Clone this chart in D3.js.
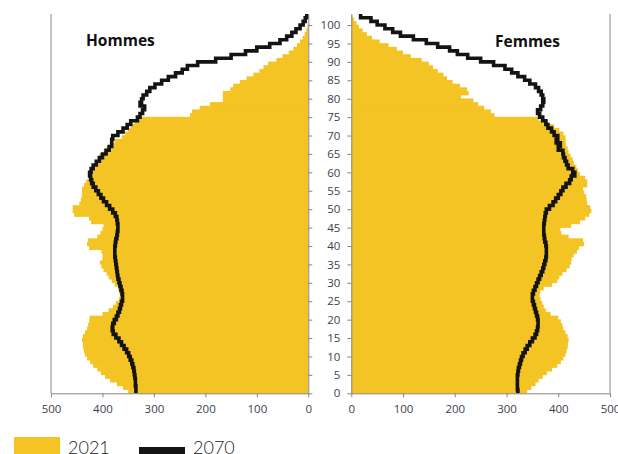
<!DOCTYPE html>
<html>
<head>
<meta charset="utf-8">
<script src="https://cdn.jsdelivr.net/npm/d3@7"></script>
<style>
  body { margin: 0; background: #fff; }
  svg { display: block; }
  .axis text { font-family: "Open Sans", sans-serif; font-size: 11.5px; fill: #3d3d4f; }
  .axis path, .axis line { stroke: #868686; }
</style>
</head>
<body>
<svg id="pyramid" width="618" height="454"></svg>
<script>
// ages 0 .. 102, one bar per age
var ages = d3.range(0, 103);

// population in thousands
var hommes2021 = [
  350, 360, 372, 385, 395, 403, 410, 418, 424, 430,
  434, 436, 438, 438, 440, 438, 434, 430, 428, 426,
  425, 400, 388, 380, 374, 368, 366, 368, 370, 376,
  382, 388, 392, 398, 402, 405, 400, 400, 402, 426,
  430, 428, 410, 404, 400, 398, 422, 426, 455, 458,
  458, 445, 442, 440, 440, 440, 436, 432, 425, 418,
  418, 414, 410, 408, 406, 398, 392, 385, 376, 362,
  356, 350, 344, 338, 328, 230, 226, 211, 191, 166,
  166, 166, 152, 146, 133, 120, 107, 95, 87, 78,
  62, 50, 38, 29, 22, 16, 11, 7, 4, 2,
  1, 0, 0
];
var femmes2021 = [
  340, 348, 356, 362, 370, 378, 388, 398, 405, 410,
  414, 416, 418, 419, 420, 418, 414, 410, 408, 405,
  400, 385, 376, 372, 369, 366, 364, 365, 372, 388,
  398, 402, 408, 416, 422, 425, 426, 430, 436, 440,
  450, 448, 420, 406, 404, 425, 442, 452, 460, 464,
  462, 456, 455, 454, 450, 448, 456, 456, 452, 442,
  438, 435, 430, 428, 424, 420, 418, 415, 414, 414,
  410, 402, 392, 380, 362, 277, 270, 257, 245, 236,
  212, 227, 224, 210, 196, 185, 178, 167, 158, 150,
  136, 115, 100, 88, 72, 55, 40, 30, 22, 15,
  10, 5, 2
];
var hommes2070 = [
  335, 335, 336, 336, 337, 338, 339, 341, 343, 346,
  349, 353, 358, 363, 368, 374, 379, 381, 380, 377,
  373, 370, 367, 365, 363, 361, 361, 362, 364, 366,
  368, 370, 371, 372, 373, 374, 375, 376, 376, 376,
  375, 374, 372, 371, 370, 370, 371, 372, 375, 380,
  386, 392, 398, 403, 408, 413, 418, 421, 423, 425,
  422, 418, 412, 406, 400, 393, 387, 382, 382, 380,
  370, 360, 352, 345, 332, 327, 322, 318, 327, 324,
  321, 314, 308, 298, 285, 272, 258, 245, 235, 215,
  180, 150, 122, 100, 75, 55, 42, 32, 24, 16,
  10, 6, 3
];
var femmes2070 = [
  322, 321, 321, 321, 321, 322, 323, 325, 327, 329,
  332, 336, 340, 345, 350, 355, 358, 360, 361, 361,
  360, 358, 356, 354, 352, 350, 350, 352, 355, 358,
  361, 364, 367, 370, 372, 374, 376, 377, 377, 377,
  376, 374, 373, 372, 372, 372, 373, 374, 375, 377,
  383, 390, 395, 400, 405, 409, 415, 422, 425, 432,
  428, 419, 416, 413, 410, 409, 400, 404, 396, 399,
  392, 387, 380, 376, 370, 364, 360, 366, 370, 372,
  370, 367, 362, 356, 345, 335, 322, 310, 297, 275,
  250, 225, 205, 190, 167, 145, 120, 95, 80, 65,
  50, 38, 18
];

var valueTicks = [0, 100, 200, 300, 400, 500];
var ageTicks = d3.range(0, 101, 5);
var legendLabels = ['2021', '2070'];

var yellow = '#f3c423';
var dark = '#141414';

var svg = d3.select('svg#pyramid');

// scales
var y = d3.scaleLinear().domain([0, 103]).range([393.3, 14]);
var xLeft = d3.scaleLinear().domain([0, 500]).range([308.3, 51]);
var xRight = d3.scaleLinear().domain([0, 500]).range([351.3, 610]);

// 2021 bars
function drawBars(values, x, side) {
    svg.append('g').selectAll('rect')
        .data(ages)
        .enter().append('rect')
            .attr('x', function(a) { return side == 'left' ? x(values[a]) : x(0); })
            .attr('y', function(a) { return y(a + 1) - 0.3; })
            .attr('width', function(a) { return Math.abs(x(values[a]) - x(0)); })
            .attr('height', function(a) { return y(a) - y(a + 1) + 0.6; })
            .attr('fill', yellow);
}
drawBars(hommes2021, xLeft, 'left');
drawBars(femmes2021, xRight, 'right');

// 2070 stepped outline
function drawLine(values, x) {
    var pts = ages.map(function(a) { return [x(values[a]), y(a)]; });
    var last = ages[ages.length - 1];
    pts.push([x(values[last]), y(last + 1)]);
    svg.append('path')
        .attr('d', d3.line().curve(d3.curveStepBefore)(pts))
        .attr('fill', 'none')
        .attr('stroke', dark)
        .attr('stroke-width', 3.6)
        .attr('stroke-linejoin', 'miter');
}
drawLine(hommes2070, xLeft);
drawLine(femmes2070, xRight);

// axes
svg.append('g').attr('class', 'axis')
    .attr('transform', 'translate(0,393.3)')
    .call(d3.axisBottom(xLeft).tickValues(valueTicks).tickSize(4).tickSizeOuter(0).tickPadding(8));
svg.append('g').attr('class', 'axis')
    .attr('transform', 'translate(0,393.3)')
    .call(d3.axisBottom(xRight).tickValues(valueTicks).tickSize(4).tickSizeOuter(0).tickPadding(8));

svg.append('g').attr('class', 'axis')
    .attr('transform', 'translate(308.3,0)')
    .call(d3.axisRight(y).tickValues(ageTicks).tickSize(4).tickSizeOuter(0).tickFormat(''));
svg.append('g').attr('class', 'axis')
    .attr('transform', 'translate(351.3,0)')
    .call(d3.axisLeft(y).tickValues(ageTicks).tickSize(4).tickSizeOuter(0).tickPadding(7));

// outer frame lines
svg.append('line').attr('x1', xLeft(500)).attr('x2', xLeft(500))
    .attr('y1', y(103)).attr('y2', y(0)).attr('stroke', '#868686');
svg.append('line').attr('x1', xRight(500)).attr('x2', xRight(500))
    .attr('y1', y(103)).attr('y2', y(0)).attr('stroke', '#868686');

// panel titles
svg.append('text').attr('x', 86).attr('y', 46)
    .style('font-family', '"Open Sans", sans-serif').style('font-weight', 'bold')
    .style('font-size', '15.5px').attr('fill', '#111')
    .text('Hommes');
svg.append('text').attr('x', 495).attr('y', 46.5)
    .style('font-family', '"Open Sans", sans-serif').style('font-weight', 'bold')
    .style('font-size', '15.5px').attr('fill', '#111')
    .text('Femmes');

// legend
svg.append('rect').attr('x', 14).attr('y', 437).attr('width', 46).attr('height', 18).attr('fill', yellow);
svg.append('rect').attr('x', 139).attr('y', 447).attr('width', 46).attr('height', 8).attr('fill', dark);
svg.append('text').attr('x', 68).attr('y', 454)
    .style('font-family', 'Lato, sans-serif').style('font-weight', 300)
    .style('font-size', '18px').attr('fill', '#222')
    .text(legendLabels[0]);
svg.append('text').attr('x', 193).attr('y', 454)
    .style('font-family', 'Lato, sans-serif').style('font-weight', 300)
    .style('font-size', '18px').attr('fill', '#222')
    .text(legendLabels[1]);
</script>
</body>
</html>
